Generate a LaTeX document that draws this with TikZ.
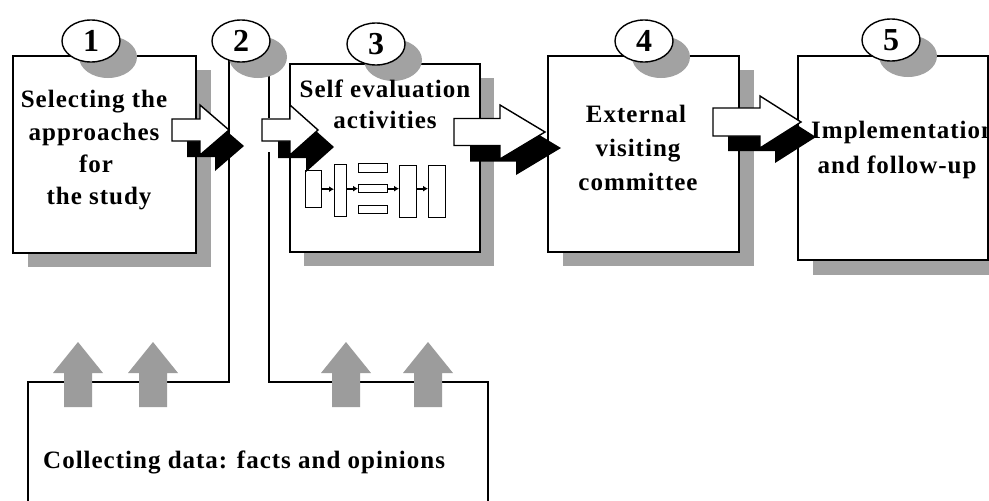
\documentclass[tikz,border=0pt]{standalone}
\usepackage{fontspec}
\setmainfont{Liberation Serif}
\newfontfamily\lblfont[LetterSpace=4]{Liberation Serif}
\usetikzlibrary{shapes.geometric,arrows.meta}
\definecolor{shade}{HTML}{A2A2A2}
\definecolor{upgray}{HTML}{9C9C9C}
\newcommand\fatpath[6]{(#1,#2-#5) -- (#3,#2-#5) -- (#3,#2-#6) -- (#4,#2) -- (#3,#2+#6) -- (#3,#2+#5) -- (#1,#2+#5) -- cycle}
\newcommand\uppath[1]{(#1-14,407) -- (#1-14,373) -- (#1-25,373) -- (#1,342) -- (#1+25,373) -- (#1+14,373) -- (#1+14,407) -- cycle}
\begin{document}
\begin{tikzpicture}[x=1pt,y=-1pt,
  stepbox/.style={draw=black,line width=1.6pt,fill=white,rectangle,inner sep=0pt,anchor=north west},
  shadowfill/.style={fill=shade,draw=none},
  numoval/.style={ellipse,draw=black,line width=1.4pt,fill=white,minimum width=58pt,minimum height=42pt,inner sep=0pt,font=\fontsize{32}{32}\selectfont\bfseries},
  ovalshadow/.style={ellipse,fill=shade,draw=none,minimum width=58pt,minimum height=42pt,inner sep=0pt},
  lbl/.style={anchor=base,inner sep=0pt,font=\lblfont\fontsize{25}{29}\selectfont\bfseries},
  minibox/.style={draw=black,line width=1.3pt,fill=white,rectangle,inner sep=0pt,anchor=north west},
  miniconn/.style={line width=1.8pt,-{Latex[length=5pt,width=6pt]}},
  frameline/.style={draw=black,line width=1.5pt},
  whitearrow/.style={draw=black,line width=1.4pt,fill=white,line join=miter},
  blackarrow/.style={fill=black,draw=none},
  uparrow/.style={fill=upgray,draw=none}
]
\useasboundingbox (0,0) rectangle (989,501);
\fill[white] (0,0) rectangle (989,501);

% box shadows
\fill[shadowfill] (28,70) rectangle (211,267);
\fill[shadowfill] (304,78) rectangle (494,266);
\fill[shadowfill] (563,70) rectangle (754,266);
\fill[shadowfill] (813,71) rectangle (1003,275);

% frame of the data-collection stage
\coordinate (fA) at (28,520);
\coordinate (fB) at (28,382);
\coordinate (fC) at (229,382);
\coordinate (fD) at (229,60);
\coordinate (gA) at (269,60);
\coordinate (gB) at (269,118);
\coordinate (gC) at (269,152);
\coordinate (gD) at (269,382);
\coordinate (gE) at (488,382);
\coordinate (gF) at (488,520);
\draw[frameline] (fA) -- (fB) -- (fC) -- (fD);
\draw[frameline] (gA) -- (gB);
\draw[frameline] (gC) -- (gD) -- (gE) -- (gF);

% boxes
\node[stepbox,minimum width=183pt,minimum height=197pt] (b1) at (12,55) {};
\node[stepbox,minimum width=190pt,minimum height=188pt] (b3) at (289,63) {};
\node[stepbox,minimum width=191pt,minimum height=196pt] (b4) at (547,55) {};
\node[stepbox,minimum width=190pt,minimum height=204pt] (b5) at (797,55) {};

% number ovals with shadows
\node[ovalshadow] (s1) at (108,57) {};
\node[ovalshadow] (s2) at (258,57) {};
\node[ovalshadow] (s3) at (393,60) {};
\node[ovalshadow] (s4) at (661,57) {};
\node[ovalshadow] (s5) at (908,56) {};
\node[numoval] (n1) at (91,41) {1};
\node[numoval] (n2) at (241,41) {2};
\node[numoval] (n3) at (376,44) {3};
\node[numoval] (n4) at (644,41) {4};
\node[numoval] (n5) at (891,40) {5};

% small flow chart inside box 3
\node[minibox,minimum width=16pt,minimum height=37pt] (mA) at (305,170) {};
\node[minibox,minimum width=12pt,minimum height=52pt] (mB) at (334,164) {};
\node[minibox,minimum width=29pt,minimum height=9pt] (mC1) at (358,163) {};
\node[minibox,minimum width=29pt,minimum height=8pt] (mC2) at (358,184) {};
\node[minibox,minimum width=29pt,minimum height=8pt] (mC3) at (358,205) {};
\node[minibox,minimum width=17pt,minimum height=52pt] (mD) at (399,165) {};
\node[minibox,minimum width=17pt,minimum height=52pt] (mE) at (428,165) {};
\draw[miniconn] (mA.east) -- (mA.east -| mB.west);
\draw[miniconn] (mB.east |- mC2.west) -- (mC2.west);
\draw[miniconn] (mC2.east) -- (mC2.east -| mD.west);
\draw[miniconn] (mD.east |- mC2.east) -- (mD.east |- mC2.east -| mE.west);

% block arrows between stages
\fill[blackarrow,shift={(15,16)}] \fatpath{172}{130}{200}{229}{11}{25};
\draw[whitearrow] \fatpath{172}{130}{200}{229}{11}{25};
\fill[blackarrow,shift={(16,17)}] \fatpath{262}{130}{290}{318}{11}{25};
\draw[whitearrow] \fatpath{262}{130}{290}{318}{11}{25};
\fill[blackarrow,shift={(16,16)}] \fatpath{454}{132}{500}{545}{13.5}{27};
\draw[whitearrow] \fatpath{454}{132}{500}{545}{13.5}{27};
\fill[blackarrow,shift={(15,15)}] \fatpath{713}{122}{760}{801}{14}{26};
\draw[whitearrow] \fatpath{713}{122}{760}{801}{14}{26};

% grey upward arrows
\fill[uparrow] \uppath{78};
\fill[uparrow] \uppath{153};
\fill[uparrow] \uppath{346};
\fill[uparrow] \uppath{428};

% texts
\node[lbl] (t1a) at (94,107) {Selecting the};
\node[lbl] (t1b) at (94,140) {approaches};
\node[lbl] (t1c) at (96,172) {for};
\node[lbl] (t1d) at (99,204) {the study};
\node[lbl] (t3a) at (385,97) {Self evaluation};
\node[lbl] (t3b) at (385,128) {activities};
\node[lbl] (t4a) at (636,122) {External};
\node[lbl] (t4b) at (638,156) {visiting};
\node[lbl] (t4c) at (638,190) {committee};
\node[lbl,anchor=base west] (t5a) at (811,138) {Implementation};
\node[lbl] (t5b) at (897,173) {and follow-up};
\node[lbl,anchor=base west] (t6) at (43,468) {Collecting data: facts and opinions};
\end{tikzpicture}
\end{document}
